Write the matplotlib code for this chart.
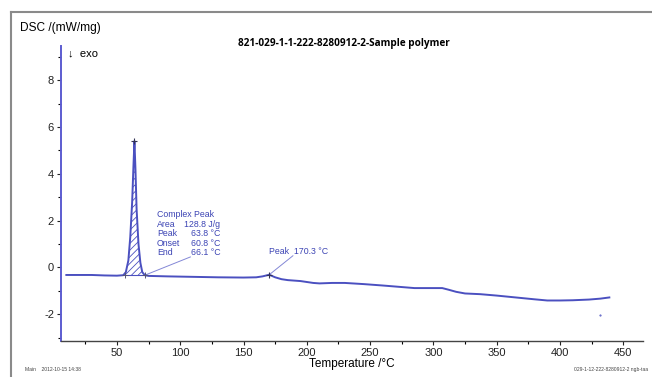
import numpy as np
import matplotlib
matplotlib.use('Agg')
import matplotlib.pyplot as plt
from matplotlib.lines import Line2D

plt.rcParams['font.family'] = ['Liberation Sans', 'DejaVu Sans']
plt.rcParams['hatch.linewidth'] = 0.6
plt.rcParams['axes.unicode_minus'] = False

# DSC trace, temperature in degC, signal in mW/mg
temp = [10, 20, 30, 40, 50, 55, 57, 59, 60.5, 62, 63, 63.8, 64.6, 65.5, 67, 68.5,
        70, 72, 75, 90, 110, 130, 150, 160, 165, 170.3, 175, 180, 185, 195, 205,
        210, 220, 230, 245, 260, 285, 307, 312, 318, 325, 337, 350, 365, 380, 390,
        400, 410, 423, 432, 439]
dsc = [-0.32, -0.32, -0.32, -0.34, -0.35, -0.33, -0.2, 0.3, 1.3, 2.8, 4.3, 5.4, 4.2,
       2.5, 1.0, 0.2, -0.2, -0.33, -0.36, -0.38, -0.4, -0.42, -0.43, -0.42, -0.38,
       -0.31, -0.42, -0.5, -0.54, -0.58, -0.66, -0.68, -0.66, -0.66, -0.71, -0.77,
       -0.88, -0.88, -0.95, -1.04, -1.11, -1.14, -1.2, -1.28, -1.36, -1.41, -1.41,
       -1.40, -1.37, -1.33, -1.28]

# integration limits of the complex peak and its baseline
base_t = [56.3, 72.0]
base_y = [-0.33, -0.33]
peak_t, peak_y = 63.8, 5.4
peak2_t, peak2_y = 170.3, -0.31
stray_t, stray_y = 432, -2.03

peak_labels = ['Complex Peak', 'Area', 'Peak', 'Onset', 'End']
peak_values = ['', '128.8 J/g', '63.8 \u00b0C', '60.8 \u00b0C', '66.1 \u00b0C']

blue = '#4b50c0'
txt_blue = '#3c44b4'

fig = plt.figure(figsize=(6.52, 3.77), dpi=100)
ax = fig.add_axes([0.0936, 0.0955, 0.8924, 0.7825])

t = np.array(temp)
y = np.array(dsc)
ax.plot(t, y, color=blue, lw=1.4, zorder=3)

# hatched peak area
tt = np.linspace(base_t[0], base_t[1], 200)
yy = np.interp(tt, t, y)
bb = np.interp(tt, base_t, base_y)
ax.fill_between(tt, bb, yy, where=yy > bb, facecolor='none', edgecolor=blue,
                hatch='/////', lw=0, zorder=2)
ax.plot(base_t, base_y, color=blue, lw=0.8)

ax.plot(base_t, base_y, '+', color='#555577', ms=4, mew=0.7, zorder=4)
ax.plot([peak_t], [peak_y], '+', color='#333355', ms=5, mew=0.8, zorder=4)
ax.plot([peak2_t], [peak2_y], '+', color='#333355', ms=5, mew=0.8, zorder=4)
ax.plot([stray_t], [stray_y], '.', color=blue, ms=1)

# annotations
x0, y0 = 81.6, 2.25
for i, (lab, val) in enumerate(zip(peak_labels, peak_values)):
    yi = y0 - i * 0.405
    ax.text(x0, yi, lab, color=txt_blue, fontsize=6.3, va='center', ha='left')
    if val:
        ax.text(131.5, yi, val, color=txt_blue, fontsize=6.3, va='center', ha='right')
ax.plot([base_t[1], 108], [base_y[1], 0.45], color='#8387d6', lw=0.7)

ax.text(170.3, 0.67, 'Peak  170.3 \u00b0C', color=txt_blue, fontsize=6.3,
        va='center', ha='left')
ax.plot([peak2_t, 189], [peak2_y, 0.5], color='#8387d6', lw=0.7)

ax.set_xlim(5.8, 465.5)
ax.set_ylim(-3.14, 9.46)
ax.set_xticks([50, 100, 150, 200, 250, 300, 350, 400, 450])
ax.set_xticks(np.arange(25, 460, 50), minor=True)
ax.set_yticks([-2, 0, 2, 4, 6, 8])
ax.set_yticks([-3, -1, 1, 3, 5, 7, 9], minor=True)
ax.tick_params(labelsize=8, colors='#222222', length=3, width=0.8)
ax.tick_params(which='minor', length=2, width=0.8)
ax.tick_params(axis='y', pad=2)
ax.tick_params(axis='x', pad=2)

for s in ['top', 'right']:
    ax.spines[s].set_visible(False)
ax.spines['left'].set_color('#5c5cd0')
ax.spines['left'].set_linewidth(1.4)
ax.spines['bottom'].set_color('#444444')
ax.spines['bottom'].set_linewidth(1.0)

ax.set_xlabel('Temperature /\u00b0C', fontsize=8.5, labelpad=0)

fig.text(0.0307, 0.925, 'DSC /(mW/mg)', fontsize=8.6, va='center', ha='left')
fig.text(0.104, 0.859, '\u2193  exo', fontsize=8, va='center', ha='left')
fig.text(0.528, 0.885, '821-029-1-1-222-8280912-2-Sample polymer', fontsize=7.2,
         fontweight='bold', family='Open Sans', va='center', ha='center')
fig.text(0.038, 0.019, 'Main    2012-10-15 14:38', fontsize=3.6, color='#444444',
         va='center', ha='left')
fig.text(0.994, 0.019, '029-1-12-222-8280912-2 ngb-taa', fontsize=3.6,
         color='#444444', va='center', ha='right')

# outer frame of the exported report
fig.add_artist(Line2D([11 / 652, 1.0], [1 - 11.5 / 377] * 2, color='#8a8a8a', lw=1.5))
fig.add_artist(Line2D([11 / 652] * 2, [0.0, 1 - 11.5 / 377], color='#8a8a8a', lw=1.5))

fig.savefig('out.png', dpi=100)
